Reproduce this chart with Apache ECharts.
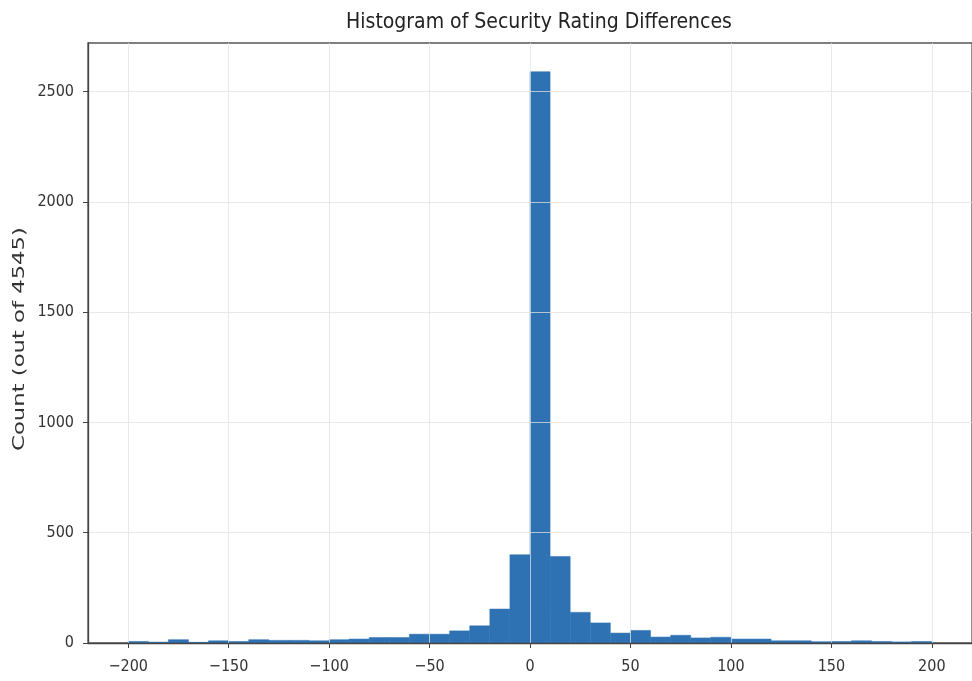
<!DOCTYPE html>
<html>
<head>
<meta charset="utf-8">
<script src="https://cdn.jsdelivr.net/npm/echarts@6/dist/echarts.min.js"></script>
<style>html,body{margin:0;padding:0;background:#fff;}#c{width:972px;height:681px;}</style>
</head>
<body>
<div id="c"></div>
<script>
const binStarts = [-200,-190,-180,-170,-160,-150,-140,-130,-120,-110,-100,-90,-80,-70,-60,-50,-40,-30,-20,-10,
                   0,10,20,30,40,50,60,70,80,90,100,110,120,130,140,150,160,170,180,190];
const binWidth = 10;
const counts = [7,4,15,3,10,7,15,12,12,10,15,18,25,25,40,40,55,78,154,400,
                2590,392,139,91,45,57,27,35,23,26,18,18,10,10,6,7,10,7,5,7];
const xTicks = [-200,-150,-100,-50,0,50,100,150,200];
const yTicks = [0,500,1000,1500,2000,2500];
const titleText = 'Histogram of Security Rating Differences';
const yLabelText = 'Count (out of 4545)';

const data = binStarts.map((s,i)=>[s, s+binWidth, counts[i]]);
const font = 'DejaVu Sans Condensed';
const chart = echarts.init(document.getElementById('c'), null, {renderer:'canvas'});
chart.setOption({
  animation:false,
  backgroundColor:'#fff',
  title:{text:titleText, left:534, top:7, textAlign:'center',
    textStyle:{fontFamily:font, fontSize:21, fontWeight:'normal', color:'#222'}},
  graphic:[{type:'text', x:20, y:339, rotation:Math.PI/2, scaleX:1.42, scaleY:1,
    style:{text:yLabelText, fontFamily:'DejaVu Sans', fontSize:16, fill:'#333', align:'center', verticalAlign:'middle'}}],
  grid:{left:88, right:-5, top:43, bottom:38, show:true, borderColor:'#555', borderWidth:1.3, backgroundColor:'transparent'},
  xAxis:{type:'value', min:-220, max:220, splitNumber:8, z:3,
    axisLine:{show:true, onZero:false, lineStyle:{color:'#444', width:1.3}},
    axisTick:{show:true, length:5, customValues:xTicks, lineStyle:{color:'#444'}},
    axisLabel:{customValues:xTicks, margin:16, fontFamily:font, fontSize:16, color:'#333',
      formatter:v=> v<0 ? '\u2212'+Math.abs(v) : String(v)},
    splitLine:{show:true, lineStyle:{color:'rgba(225,225,225,0.75)', width:1}}},
  yAxis:{type:'value', min:0, max:2720, interval:500, z:3,
    axisLine:{show:true, onZero:false, lineStyle:{color:'#444', width:1.3}},
    axisTick:{show:true, length:5, customValues:yTicks, lineStyle:{color:'#444'}},
    axisLabel:{customValues:yTicks, margin:14, fontFamily:font, fontSize:16, color:'#333',
      formatter:v=>String(v)},
    splitLine:{show:true, lineStyle:{color:'rgba(225,225,225,0.75)', width:1}}},
  series:[{type:'custom', z:2,
    renderItem:(params, api)=>{
      const p0 = api.coord([api.value(0), api.value(2)]);
      const p1 = api.coord([api.value(1), 0]);
      return {type:'rect', shape:{x:p0[0], y:p0[1], width:p1[0]-p0[0], height:p1[1]-p0[1]},
        style:{fill:'#2f72b3', stroke:'#2f72b3', lineWidth:0.5}};
    },
    encode:{x:[0,1], y:2},
    data:data}]
});
</script>
</body>
</html>
